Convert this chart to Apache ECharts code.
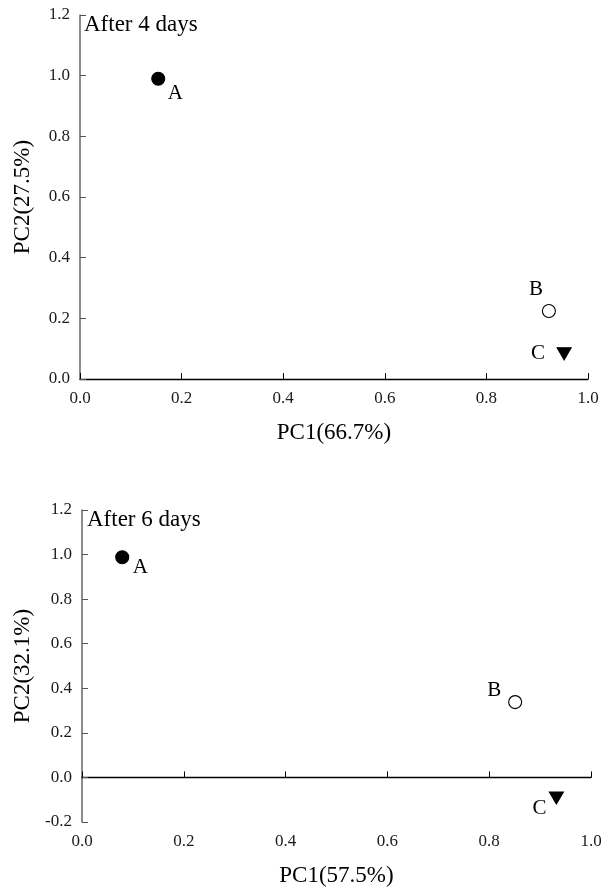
<!DOCTYPE html>
<html>
<head>
<meta charset="utf-8">
<script src="https://cdn.jsdelivr.net/npm/echarts@6/dist/echarts.min.js"></script>
<style>
html, body { margin: 0; padding: 0; background: #fff; }
#container { width: 608px; height: 888px; }
</style>
</head>
<body>
<div id="container"></div>
<script>
var groups = ['A', 'B', 'C'];
var day4PC1 = [0.154, 0.923, 0.953];
var day4PC2 = [0.990, 0.224, 0.083];
var day6PC1 = [0.079, 0.851, 0.932];
var day6PC2 = [0.988, 0.338, -0.092];
var panelTitles = ['After 4 days', 'After 6 days'];
var pc1Names = ['PC1(66.7%)', 'PC1(57.5%)'];
var pc2Names = ['PC2(27.5%)', 'PC2(32.1%)'];

var font = 'Liberation Serif';
var dom = document.getElementById('container');
var myChart = echarts.init(dom);

// marker look and label offset for each group, per panel
var markers = {
    A: { symbol: 'circle', color: '#000', border: '#000', rotate: 0 },
    B: { symbol: 'circle', color: '#fff', border: '#000', rotate: 0 },
    C: { symbol: 'triangle', color: '#000', border: '#000', rotate: 180 }
};
var labelOffsets = [
    { A: [17, 15], B: [-13, -22], C: [-26, 0] },
    { A: [18, 10], B: [-21, -12], C: [-17, 11] }
];

function xAxisFor(i) {
    return {
        gridIndex: i,
        type: 'value',
        min: 0,
        max: 1,
        interval: 0.2,
        name: pc1Names[i],
        nameLocation: 'middle',
        nameGap: 42,
        nameTextStyle: { fontFamily: font, fontSize: 23, color: '#000' },
        axisLine: { onZero: true, lineStyle: { color: '#000', width: 1.3 } },
        axisTick: { inside: true, length: 6, lineStyle: { color: '#000' } },
        axisLabel: {
            fontFamily: font, fontSize: 17, color: '#1a1a1a', margin: 11,
            formatter: function (v) { return v.toFixed(1); }
        },
        splitLine: { show: false }
    };
}

function yAxisFor(i, min) {
    return {
        gridIndex: i,
        type: 'value',
        min: min,
        max: 1.2,
        interval: 0.2,
        name: pc2Names[i],
        nameLocation: 'middle',
        nameGap: 46,
        nameTextStyle: { fontFamily: font, fontSize: 23, color: '#000' },
        axisLine: { onZero: false, lineStyle: { color: '#666', width: 1.5 } },
        axisTick: { inside: true, length: 6, lineStyle: { color: '#555' } },
        axisLabel: {
            fontFamily: font, fontSize: 17, color: '#1a1a1a', margin: 10,
            formatter: function (v) { return v.toFixed(1); }
        },
        splitLine: { show: false }
    };
}

function seriesFor(i, xs, ys) {
    return groups.map(function (g, k) {
        var m = markers[g];
        return {
            name: g,
            type: 'scatter',
            xAxisIndex: i,
            yAxisIndex: i,
            symbol: m.symbol,
            symbolSize: m.symbol === 'triangle' ? [14, 12] : 13,
            symbolRotate: m.rotate,
            itemStyle: { color: m.color, borderColor: m.border, borderWidth: 1.1, opacity: 1 },
            label: {
                show: true,
                formatter: '{a}',
                position: 'inside',
                offset: labelOffsets[i][g],
                fontFamily: font,
                fontSize: 21,
                color: '#000'
            },
            emphasis: { disabled: true },
            data: [[xs[k], ys[k]]]
        };
    });
}

var option = {
    animation: false,
    backgroundColor: '#fff',
    title: [
        { text: panelTitles[0], left: 84, top: 13, padding: 0,
          textStyle: { fontFamily: font, fontSize: 23, fontWeight: 'normal', color: '#000' } },
        { text: panelTitles[1], left: 87, top: 508, padding: 0,
          textStyle: { fontFamily: font, fontSize: 23, fontWeight: 'normal', color: '#000' } }
    ],
    grid: [
        { left: 80, right: 20, top: 15, height: 364 },
        { left: 82, right: 17, top: 510, height: 364 }
    ],
    xAxis: [xAxisFor(0), xAxisFor(1)],
    yAxis: [yAxisFor(0, 0), yAxisFor(1, -0.2)],
    series: seriesFor(0, day4PC1, day4PC2).concat(seriesFor(1, day6PC1, day6PC2))
};

myChart.setOption(option, true);
</script>
</body>
</html>
